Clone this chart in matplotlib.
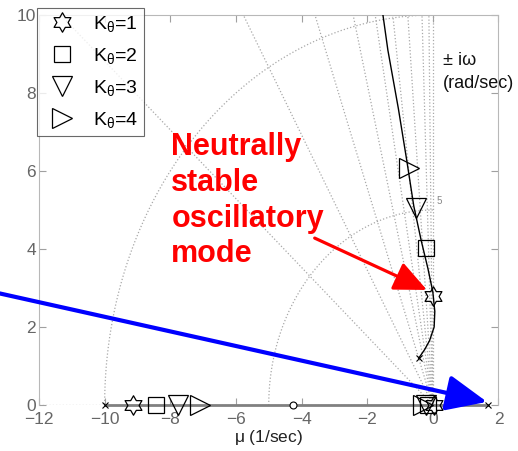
import numpy as np
import matplotlib.pyplot as plt
from matplotlib.path import Path

plt.rcParams['font.family'] = ['Liberation Sans', 'DejaVu Sans']
plt.rcParams['mathtext.fontset'] = 'custom'
plt.rcParams['mathtext.rm'] = 'Liberation Sans'
plt.rcParams['mathtext.it'] = 'Liberation Sans'

# root locus data
locus_mu = [-1.52, -1.37, -1.05, -0.80, -0.58, -0.35, -0.15, 0.00, 0.06, 0.04, -0.10, -0.25, -0.43]
locus_om = [10.0, 9.1, 7.6, 6.3, 5.1, 4.2, 3.5, 2.9, 2.4, 2.0, 1.65, 1.42, 1.2]
real_locus = [-10.0, 1.67]
poles_mu = [-10.0, 1.67, -0.43]
poles_om = [0.0, 0.0, 1.2]
zeros_mu = [-4.27]
zeros_om = [0.0]

# marker positions for each gain K_theta = 1..4
gains = [1, 2, 3, 4]
osc_mu = [0.02, -0.20, -0.52, -0.72]
osc_om = [2.80, 4.03, 5.05, 6.08]
real_mu = [-9.15, -8.45, -7.75, -7.10]
orig_mu = [0.05, -0.15, -0.20, -0.30]

# s-plane grid
zetas = [0.0, 0.012, 0.033, 0.076, 0.121, 0.173, 0.236, 0.338, 0.5, 0.75]
wn_circles = [5, 10]

# hexagram marker
ang = np.deg2rad(90 + 30 * np.arange(12))
rad = np.where(np.arange(12) % 2 == 0, 1.0, 1 / np.sqrt(3))
verts = np.column_stack([rad * np.cos(ang), rad * np.sin(ang)])
verts = np.vstack([verts, verts[0]])
hexagram = Path(verts, [Path.MOVETO] + [Path.LINETO] * 11 + [Path.CLOSEPOLY])

marks = [hexagram, 's', 'v', '>']
sizes = [14, 12, 15, 15]

fig = plt.figure(figsize=(5.18, 4.51), dpi=100)
ax = fig.add_axes([0.0753, 0.102, 0.887, 0.8647])

gc = '#a8a8a8'
for z in zetas:
    th = np.arccos(z)
    ax.plot([0, -20 * np.cos(th)], [0, 20 * np.sin(th)], ls=':', color=gc, lw=0.9, zorder=1)
for r in wn_circles:
    t = np.linspace(np.pi / 2, np.pi, 200)
    ax.plot(r * np.cos(t), r * np.sin(t), ls=':', color=gc, lw=0.9, zorder=1)
ax.plot([-12, 0], [0, 0], ls=':', color=gc, lw=0.9, zorder=1)
ax.text(0.12, 5.15, '5', fontsize=7, color='#888888')

ax.plot(real_locus, [0, 0], color='#808080', lw=2, zorder=2, clip_on=False)
ax.plot(locus_mu, locus_om, color='black', lw=1, zorder=3)
ax.plot(poles_mu, poles_om, 'x', color='black', ms=4, mew=0.8, zorder=4, clip_on=False)
ax.plot(zeros_mu, zeros_om, 'o', mfc='white', mec='black', ms=5, mew=0.8, zorder=4, clip_on=False)

for i, g in enumerate(gains):
    kw = dict(marker=marks[i], ms=sizes[i], mfc='none', mec='black', mew=0.9, ls='none', zorder=5, clip_on=False)
    ax.plot([osc_mu[i]], [osc_om[i]], label=r'K$_{\theta}$=%d' % g, **kw)
    ax.plot([real_mu[i]], [0], **kw)
    ax.plot([orig_mu[i]], [0], **kw)

ax.set_xlim(-12, 2)
ax.set_ylim(0, 10)
ax.set_xticks(np.arange(-12, 3, 2))
ax.set_yticks(np.arange(0, 11, 2))
ax.tick_params(direction='in', top=True, right=True, length=5, color='#a0a0a0',
               labelcolor='#666666', labelsize=12.5, pad=2)
ax.tick_params(axis='x', pad=5)
for s in ['left', 'top', 'right']:
    ax.spines[s].set_color('#b8b8b8')
ax.spines['bottom'].set_visible(False)
ax.set_xlabel(r'$\mu$ (1/sec)', fontsize=12.5, color='#222222', labelpad=1)

ax.text(0.3, 9.05, '± iω\n(rad/sec)', fontsize=13, va='top', ha='left', linespacing=1.45, color='#111111')

ax.text(-7.97, 7.0, 'Neutrally\nstable\noscillatory\nmode', color='red', fontsize=22,
        fontweight='bold', va='top', ha='left', linespacing=1.25)

ax.annotate('', xy=(-0.18, 2.95), xytext=(-3.6, 4.28),
            arrowprops=dict(arrowstyle='-|>,head_length=1.0,head_width=0.45', color='red',
                            lw=2.3, mutation_scale=20, shrinkA=0, shrinkB=0))
ax.annotate('', xy=(1.65, 0.08), xytext=(-13.3, 2.88), annotation_clip=False,
            arrowprops=dict(arrowstyle='-|>,head_length=1.25,head_width=0.55', color='blue',
                            lw=3, mutation_scale=20, shrinkA=0, shrinkB=0, clip_on=False))

leg = ax.legend(loc='upper left', bbox_to_anchor=(37 / 518, 1 - 8 / 451), bbox_transform=fig.transFigure,
                fontsize=14, frameon=True, fancybox=False, borderpad=0.3, labelspacing=0.62,
                handletextpad=0.6, borderaxespad=0, handlelength=2.0)
leg.get_frame().set_edgecolor('#444444')
leg.get_frame().set_linewidth(0.8)
leg.set_zorder(10)

fig.savefig('out.png', dpi=100)
